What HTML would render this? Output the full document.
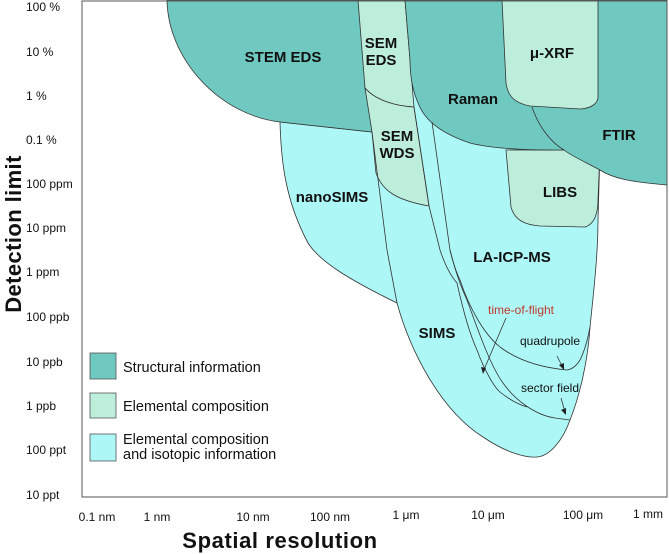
<!DOCTYPE html>
<html><head><meta charset="utf-8"><style>
html,body{margin:0;padding:0;background:#fff;}
svg{display:block;font-family:"Liberation Sans",sans-serif;}
.t{font-size:12px;fill:#111;}
.b{font-weight:bold;font-size:15px;fill:#111;}
</style></head><body>
<svg width="669" height="554" viewBox="0 0 669 554">
<g stroke="#333" stroke-width="0.8">
<path fill="#aef7f7" d="M280,122 C281,160 285,200 308,243 C320,262 350,280 397,303 C410,350 440,410 483,437 C505,452 525,458 537,457 C550,456 563,440 570,420 C580,395 588,360 590,327 C595,280 598,250 598,220 L600,150 L470,143 L410,60 L372,132 Z"/>
<path fill="#bdeedc" d="M506,150 L511,207 C515,222 528,225 540,226 L585,227 C595,224 598,212 598,200 L600,150 Z"/>
<path fill="#6fc9c0" d="M167,0 C168,60 220,115 280,122 L372,132 L358,0 Z"/>
<path fill="#bdeedc" d="M358,0 L365,88 C375,100 395,106 414,107 L405,0 Z"/>
<path fill="#bdeedc" d="M365,88 L372,132 L376,173 C382,190 395,200 429,206 L414,107 C395,106 375,100 365,88 Z"/>
<path fill="#6fc9c0" d="M405,0 L667,0 L667,185 C630,182 612,178 600,170 C585,162 570,155 564,150 L551,150 C520,150 490,148 470,143 C440,133 425,120 419,105 C412,90 410,75 410,60 Z"/>
<path fill="#bdeedc" d="M502,0 L506,83 C508,97 515,103 530,106 L581,109 C592,108 598,103 598,97 L598,0 Z"/>
<path fill="none" d="M532,107 C538,125 550,142 564,150"/>
<path fill="none" d="M372,132 L387,250 L397,303"/>
<path fill="none" d="M414,107 L429,206 L440,250 C445,265 450,275 457,283 C463,310 470,335 477,350 C485,372 495,388 500,392 C510,400 520,405 527,407"/>
<path fill="none" d="M432,122 L450,250 C455,270 460,285 467,300 C478,330 490,365 503,383 C515,400 535,415 555,418 L570,420"/>
<path fill="none" d="M450,250 C453,262 456,272 460,280 C470,310 485,335 500,347 C520,362 545,368 567,370 C573,369 577,365 580,360 C585,350 588,338 590,327"/>
<path fill="none" d="M506,318 L483,372"/>
<path fill="none" d="M557,356 L563,368"/>
<path fill="none" d="M561,398 L565,412"/>
</g>
<g fill="#222">
<path d="M483,374 L481,367 L486,368 Z"/>
<path d="M564,370 L559,365 L564,363 Z"/>
<path d="M566,415 L561,410 L566,408 Z"/>
</g>
<path d="M82,1 L667,1 L667,497 L82,497 Z" fill="none" stroke="#555" stroke-width="1"/>
<text class="b" x="283" y="62" text-anchor="middle">STEM EDS</text>
<text class="b" x="381" y="48" text-anchor="middle">SEM</text>
<text class="b" x="381" y="65" text-anchor="middle">EDS</text>
<text class="b" x="397" y="141" text-anchor="middle">SEM</text>
<text class="b" x="397" y="158" text-anchor="middle">WDS</text>
<text class="b" x="552" y="58" text-anchor="middle">μ-XRF</text>
<text class="b" x="473" y="104" text-anchor="middle">Raman</text>
<text class="b" x="619" y="140" text-anchor="middle">FTIR</text>
<text class="b" x="560" y="197" text-anchor="middle">LIBS</text>
<text class="b" x="332" y="202" text-anchor="middle">nanoSIMS</text>
<text class="b" x="512" y="262" text-anchor="middle">LA-ICP-MS</text>
<text class="b" x="437" y="338" text-anchor="middle">SIMS</text>
<text x="521" y="314" text-anchor="middle" style="font-size:12px;fill:#c0392b">time-of-flight</text>
<text class="t" x="550" y="345" text-anchor="middle">quadrupole</text>
<text class="t" x="550" y="392" text-anchor="middle">sector field</text>
<rect x="90" y="353" width="26" height="26" fill="#6fc9c0" stroke="#555" stroke-width="0.8"/>
<rect x="90" y="393" width="26" height="25" fill="#bdeedc" stroke="#555" stroke-width="0.8"/>
<rect x="90" y="434" width="26" height="27" fill="#aef7f7" stroke="#555" stroke-width="0.8"/>
<text x="123" y="372" style="font-size:14.5px;fill:#111">Structural information</text>
<text x="123" y="411" style="font-size:14.5px;fill:#111">Elemental composition</text>
<text x="123" y="444" style="font-size:14.5px;fill:#111">Elemental composition</text>
<text x="123" y="459" style="font-size:14.5px;fill:#111">and isotopic information</text>
<g class="t" style="font-size:12px">
<text x="26" y="11">100 %</text>
<text x="26" y="56">10 %</text>
<text x="26" y="100">1 %</text>
<text x="26" y="144">0.1 %</text>
<text x="26" y="188">100 ppm</text>
<text x="26" y="232">10 ppm</text>
<text x="26" y="276">1 ppm</text>
<text x="26" y="321">100 ppb</text>
<text x="26" y="366">10 ppb</text>
<text x="26" y="410">1 ppb</text>
<text x="26" y="454">100 ppt</text>
<text x="26" y="499">10 ppt</text>
</g>
<g class="t" text-anchor="middle" style="font-size:12px">
<text x="97" y="521">0.1 nm</text>
<text x="157" y="521">1 nm</text>
<text x="253" y="521">10 nm</text>
<text x="330" y="521">100 nm</text>
<text x="406" y="519">1 μm</text>
<text x="488" y="519">10 μm</text>
<text x="583" y="519">100 μm</text>
<text x="648" y="518">1 mm</text>
</g>
<text x="280" y="548" text-anchor="middle" style="font-size:22px;font-weight:bold;fill:#111;letter-spacing:0.6px">Spatial resolution</text>
<text transform="translate(21,234) rotate(-90)" text-anchor="middle" style="font-size:22px;font-weight:bold;fill:#111;letter-spacing:0.4px">Detection limit</text>
</svg>
</body></html>
